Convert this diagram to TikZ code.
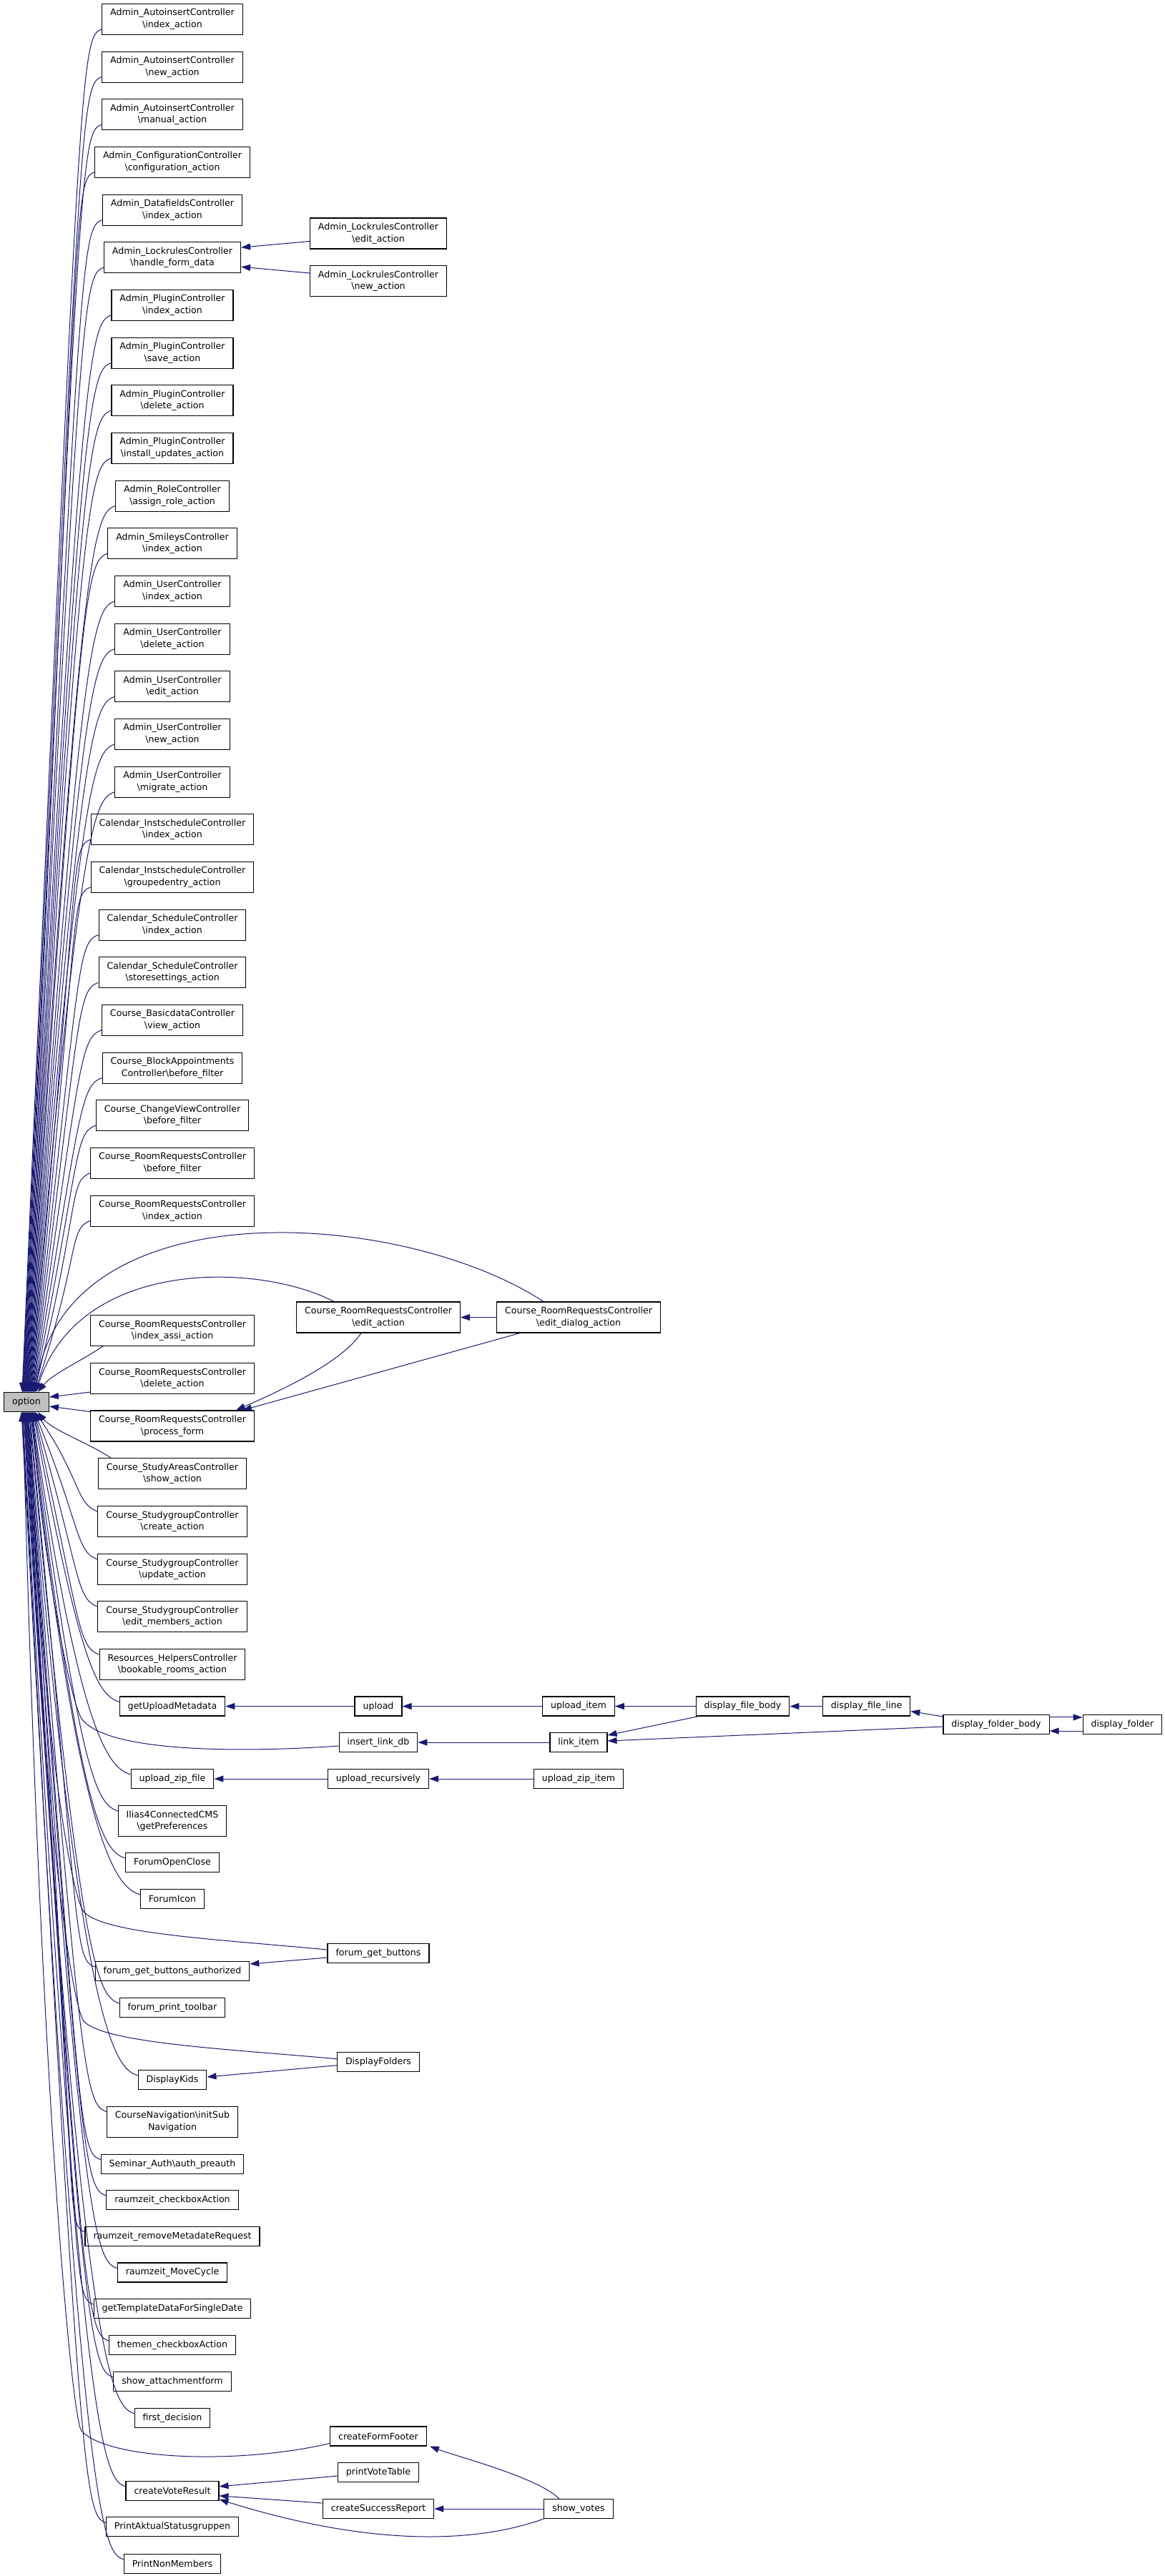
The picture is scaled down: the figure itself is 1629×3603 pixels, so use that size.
\documentclass[tikz,border=0pt]{standalone}
\usepackage{fontspec}
\setmainfont{DejaVu Sans}
\usepackage{tikz}
\usetikzlibrary{arrows.meta,calc}

\definecolor{edgeblue}{RGB}{25,25,112}
\definecolor{rootgray}{RGB}{191,191,191}
\newcommand{\bsl}{\textbackslash}

\begin{document}
\begin{tikzpicture}[
  x=1pt, y=-1pt,
  font=\fontsize{12.6}{16.5}\selectfont,
  fn/.style={draw=black, line width=1.1pt, fill=white, inner xsep=11.5pt, inner ysep=2pt, minimum height=27pt, align=center},
  fntwo/.style={fn, minimum height=43pt},
  rootfn/.style={fn, fill=rootgray},
  arr/.style={-{Triangle[length=13pt,width=9pt]}, draw=edgeblue, line width=1pt},
]
\useasboundingbox (0,0) rectangle (1629,3603);
\coordinate (bend) at (112,0);

% ====== ROOT ======
\node[rootfn] (option) at (37, 1961) {option};

% ====== CALLERS ABOVE ======
\node[fntwo] (aiindex) at (241, 26.9) {Admin\_AutoinsertController\\\bsl index\_action};
\node[fntwo] (ainew) at (241, 93.6) {Admin\_AutoinsertController\\\bsl new\_action};
\node[fntwo] (aimanual) at (241, 160.2) {Admin\_AutoinsertController\\\bsl manual\_action};
\node[fntwo] (confaction) at (241, 226.9) {Admin\_ConfigurationController\\\bsl configuration\_action};
\node[fntwo] (dfindex) at (241, 293.6) {Admin\_DatafieldsController\\\bsl index\_action};
\node[fntwo] (lrhandle) at (241, 360.2) {Admin\_LockrulesController\\\bsl handle\_form\_data};
\node[fntwo] (plindex) at (241, 426.9) {Admin\_PluginController\\\bsl index\_action};
\node[fntwo] (plsave) at (241, 493.6) {Admin\_PluginController\\\bsl save\_action};
\node[fntwo] (pldelete) at (241, 560.3) {Admin\_PluginController\\\bsl delete\_action};
\node[fntwo] (plinstall) at (241, 626.9) {Admin\_PluginController\\\bsl install\_updates\_action};
\node[fntwo] (roleassign) at (241, 693.6) {Admin\_RoleController\\\bsl assign\_role\_action};
\node[fntwo] (smindex) at (241, 760.3) {Admin\_SmileysController\\\bsl index\_action};
\node[fntwo] (usindex) at (241, 826.9) {Admin\_UserController\\\bsl index\_action};
\node[fntwo] (usdelete) at (241, 893.6) {Admin\_UserController\\\bsl delete\_action};
\node[fntwo] (usedit) at (241, 960.3) {Admin\_UserController\\\bsl edit\_action};
\node[fntwo] (usnew) at (241, 1026.9) {Admin\_UserController\\\bsl new\_action};
\node[fntwo] (usmigrate) at (241, 1093.6) {Admin\_UserController\\\bsl migrate\_action};
\node[fntwo] (isindex) at (241, 1160.3) {Calendar\_InstscheduleController\\\bsl index\_action};
\node[fntwo] (isgrouped) at (241, 1226.9) {Calendar\_InstscheduleController\\\bsl groupedentry\_action};
\node[fntwo] (scindex) at (241, 1293.6) {Calendar\_ScheduleController\\\bsl index\_action};
\node[fntwo] (scstore) at (241, 1360.3) {Calendar\_ScheduleController\\\bsl storesettings\_action};
\node[fntwo] (bdview) at (241, 1426.9) {Course\_BasicdataController\\\bsl view\_action};
\node[fntwo] (bafilter) at (241, 1493.6) {Course\_BlockAppointments\\Controller\bsl before\_filter};
\node[fntwo] (cvfilter) at (241, 1560.3) {Course\_ChangeViewController\\\bsl before\_filter};
\node[fntwo] (rrfilter) at (241, 1626.9) {Course\_RoomRequestsController\\\bsl before\_filter};
\node[fntwo] (rrindex) at (241, 1693.6) {Course\_RoomRequestsController\\\bsl index\_action};
\node[fntwo] (rrassi) at (241, 1861) {Course\_RoomRequestsController\\\bsl index\_assi\_action};
\node[fntwo] (rrdelete) at (241, 1928) {Course\_RoomRequestsController\\\bsl delete\_action};

% Lockrules callers
\node[fntwo] (lredit) at (529, 326.5) {Admin\_LockrulesController\\\bsl edit\_action};
\node[fntwo] (lrnew) at (529, 393) {Admin\_LockrulesController\\\bsl new\_action};

% Room requests callers
\node[fntwo] (rredit) at (529, 1842.5) {Course\_RoomRequestsController\\\bsl edit\_action};
\node[fntwo] (rrdialog) at (809, 1842.5) {Course\_RoomRequestsController\\\bsl edit\_dialog\_action};

% ====== CALLERS BELOW ======
\node[fntwo] (rrprocess) at (241, 1994.5) {Course\_RoomRequestsController\\\bsl process\_form};
\node[fntwo] (sashow) at (241, 2061) {Course\_StudyAreasController\\\bsl show\_action};
\node[fntwo] (sgcreate) at (241, 2128) {Course\_StudygroupController\\\bsl create\_action};
\node[fntwo] (sgupdate) at (241, 2195) {Course\_StudygroupController\\\bsl update\_action};
\node[fntwo] (sgmembers) at (241, 2261) {Course\_StudygroupController\\\bsl edit\_members\_action};
\node[fntwo] (rhbook) at (241, 2328) {Resources\_HelpersController\\\bsl bookable\_rooms\_action};
\node[fn] (getmeta) at (241, 2386.5) {getUploadMetadata};
\node[fn] (zipfile) at (241, 2488) {upload\_zip\_file};
\node[fntwo] (ilias) at (241, 2547) {Ilias4ConnectedCMS\\\bsl getPreferences};
\node[fn] (forumopen) at (241, 2605) {ForumOpenClose};
\node[fn] (forumicon) at (241, 2656) {ForumIcon};
\node[fn] (fgbauth) at (241, 2757) {forum\_get\_buttons\_authorized};
\node[fn] (forumtoolbar) at (241, 2808) {forum\_print\_toolbar};
\node[fn] (dispkids) at (241, 2909) {DisplayKids};
\node[fntwo] (cnav) at (241, 2967.7) {CourseNavigation\bsl initSub\\Navigation};
\node[fn] (semauth) at (241, 3026.7) {Seminar\_Auth\bsl auth\_preauth};
\node[fn] (rzcheck) at (241, 3077) {raumzeit\_checkboxAction};
\node[fn] (rzremove) at (241, 3127.7) {raumzeit\_removeMetadateRequest};
\node[fn] (rzmove) at (241, 3178.5) {raumzeit\_MoveCycle};
\node[fn] (templdate) at (241, 3229) {getTemplateDataForSingleDate};
\node[fn] (themencheck) at (241, 3280) {themen\_checkboxAction};
\node[fn] (showattach) at (241, 3331) {show\_attachmentform};
\node[fn] (firstdec) at (241, 3381.7) {first\_decision};
\node[fn] (voteresult) at (241, 3483.8) {createVoteResult};
\node[fn] (printaktual) at (241, 3534.4) {PrintAktualStatusgruppen};
\node[fn] (printnon) at (241, 3585.7) {PrintNonMembers};

% Upload chain
\node[fn] (upload) at (529, 2386.5) {upload};
\node[fn] (uploaditem) at (809, 2386.5) {upload\_item};
\node[fn] (insertlink) at (529, 2437) {insert\_link\_db};
\node[fn] (linkitem) at (809, 2437) {link\_item};
\node[fn] (uploadrec) at (529, 2488) {upload\_recursively};
\node[fn] (zipitem) at (809, 2488) {upload\_zip\_item};
\node[fn] (filebody) at (1038.5, 2386.5) {display\_file\_body};
\node[fn] (fileline) at (1211.6, 2386.5) {display\_file\_line};
\node[fn] (folderbody) at (1393, 2412) {display\_folder\_body};
\node[fn] (folder) at (1569.4, 2412) {display\_folder};

% Forum and folders
\node[fn] (fgb) at (529, 2732) {forum\_get\_buttons};
\node[fn] (dispfolders) at (529, 2883.7) {DisplayFolders};

% Votes
\node[fn] (formfooter) at (529, 3407.5) {createFormFooter};
\node[fn] (votetable) at (529, 3458) {printVoteTable};
\node[fn] (successrep) at (529, 3509) {createSuccessReport};
\node[fn] (showvotes) at (809, 3509) {show\_votes};

% ====== EDGES INTO option ======
\foreach \n/\k in {aiindex/-6, ainew/-5.3, aimanual/-4.6, confaction/-3.9, dfindex/-3.2, lrhandle/-2.5,
    plindex/-1.8, plsave/-1.1, pldelete/-0.4, plinstall/0.3, roleassign/1, smindex/1.7, usindex/2.4,
    usdelete/3.1, usedit/3.8, usnew/4.5, usmigrate/5.2, isindex/5.9, isgrouped/6.6, scindex/7.3,
    scstore/8, bdview/8.7, bafilter/9.4, cvfilter/10.1, rrfilter/10.8, rrindex/11.5}
  \draw[arr] ([yshift=8pt]\n.south west) .. controls +(-30,10) and ($(\n.south west -| bend)+(0,40)$) .. ([xshift=\k pt]option.north);

\foreach \n/\k in {sgcreate/12, sgupdate/11.3, sgmembers/10.6, rhbook/9.9, getmeta/9.2, zipfile/7.8,
    ilias/7.1, forumopen/6.4, forumicon/5.7, fgbauth/4.3, forumtoolbar/3.6, dispkids/2.2, cnav/1.5,
    semauth/0.8, rzcheck/0.1, rzremove/-0.6, rzmove/-1.3, templdate/-2, themencheck/-2.7,
    showattach/-3.4, firstdec/-4.1, voteresult/-5.5, printaktual/-6.2, printnon/-6.9}
  \draw[arr] ([yshift=-8pt]\n.north west) .. controls +(-30,-10) and ($(\n.north west -| bend)+(0,-40)$) .. ([xshift=\k pt]option.south);

% nearest callers
\draw[arr] ([xshift=18pt]rrassi.south west) .. controls +(-30,20) and +(20,-25) .. ([xshift=16pt]option.north);
\draw[arr] ([yshift=3pt]rrdelete.south west) -- ([yshift=7pt]option.east);
\draw[arr] ([yshift=-2pt]rrprocess.north west) -- ([yshift=-6pt]option.east);
\draw[arr] ([xshift=18pt]sashow.north west) .. controls +(-30,-20) and +(20,25) .. ([xshift=16pt]option.south);

% arcs from the second column
\draw[arr] ([xshift=-49pt]rrdialog.north) .. controls (560,1690) and (90,1660) .. ([xshift=12.5pt]option.north);
\draw[arr] ([xshift=-62pt]rredit.north) .. controls (360,1765) and (110,1760) .. ([xshift=13.5pt]option.north);

% long callers from below
\draw[arr] ([yshift=-5pt]insertlink.west) .. controls (330,2452) and (150,2450) .. (115,2405)
  .. controls (97,2382) and (55,2150) .. ([xshift=8.5pt]option.south);
\draw[arr] ([yshift=5pt]fgb.west) .. controls (300,2712) and (150,2705) .. (118,2675)
  .. controls (100,2658) and (55,2400) .. ([xshift=5pt]option.south);
\draw[arr] ([yshift=4pt]dispfolders.west) .. controls (320,2866) and (150,2858) .. (118,2828)
  .. controls (100,2811) and (55,2500) .. ([xshift=2.9pt]option.south);
\draw[arr] ([yshift=-10pt]formfooter.west) .. controls (330,3448) and (150,3440) .. (114,3400)
  .. controls (100,3385) and (55,2900) .. ([xshift=-4.8pt]option.south);

% ====== OTHER CALLS ======
\draw[arr] ([yshift=-11pt]lredit.west) -- ([yshift=-8pt]lrhandle.north east);
\draw[arr] ([yshift=11pt]lrnew.west) -- ([yshift=-13pt]lrhandle.east);

\draw[arr] (rrdialog.west) -- (rredit.east);
\draw[arr] ([xshift=-24pt]rredit.south) .. controls +(-30,45) and +(45,-20) .. ([xshift=-26pt]rrprocess.north east);
\draw[arr] ([xshift=-82pt]rrdialog.south) -- ([xshift=-17pt]rrprocess.north east);

\draw[arr] (upload.west) -- (getmeta.east);
\draw[arr] (uploaditem.west) -- (upload.east);
\draw[arr] (filebody.west) -- (uploaditem.east);
\draw[arr] (linkitem.west) -- (insertlink.east);
\draw[arr] ([xshift=4pt]filebody.south west) -- ([yshift=10pt]linkitem.east);
\draw[arr] ([yshift=-3pt]folderbody.west) -- ([yshift=2pt]linkitem.east);
\draw[arr] (fileline.west) -- (filebody.east);
\draw[arr] ([yshift=-3pt]folderbody.north west) -- ([yshift=-7pt]fileline.east);
\draw[arr] ([yshift=-4pt]folderbody.north east) -- ([yshift=-4pt]folder.north west);
\draw[arr] ([yshift=5pt]folder.south west) -- ([yshift=5pt]folderbody.south east);
\draw[arr] (uploadrec.west) -- (zipfile.east);
\draw[arr] (zipitem.west) -- (uploadrec.east);

\draw[arr] ([yshift=-6pt]fgb.west) -- ([yshift=10pt]fgbauth.east);
\draw[arr] ([yshift=-5pt]dispfolders.west) -- ([yshift=4pt]dispkids.east);

\draw[arr] ([yshift=-5pt]votetable.west) -- ([yshift=6pt]voteresult.east);
\draw[arr] ([yshift=8pt]successrep.west) -- ([yshift=-7pt]voteresult.east);
\draw[arr] (showvotes.west) -- (successrep.east);
\draw[arr] ([xshift=-27pt]showvotes.north) .. controls +(-30,-30) and +(40,15) .. ([xshift=4pt]formfooter.south east);
\draw[arr] (showvotes.south west) .. controls (600,3580) and (400,3525) .. ([yshift=-12pt]voteresult.east);

\end{tikzpicture}
\end{document}
